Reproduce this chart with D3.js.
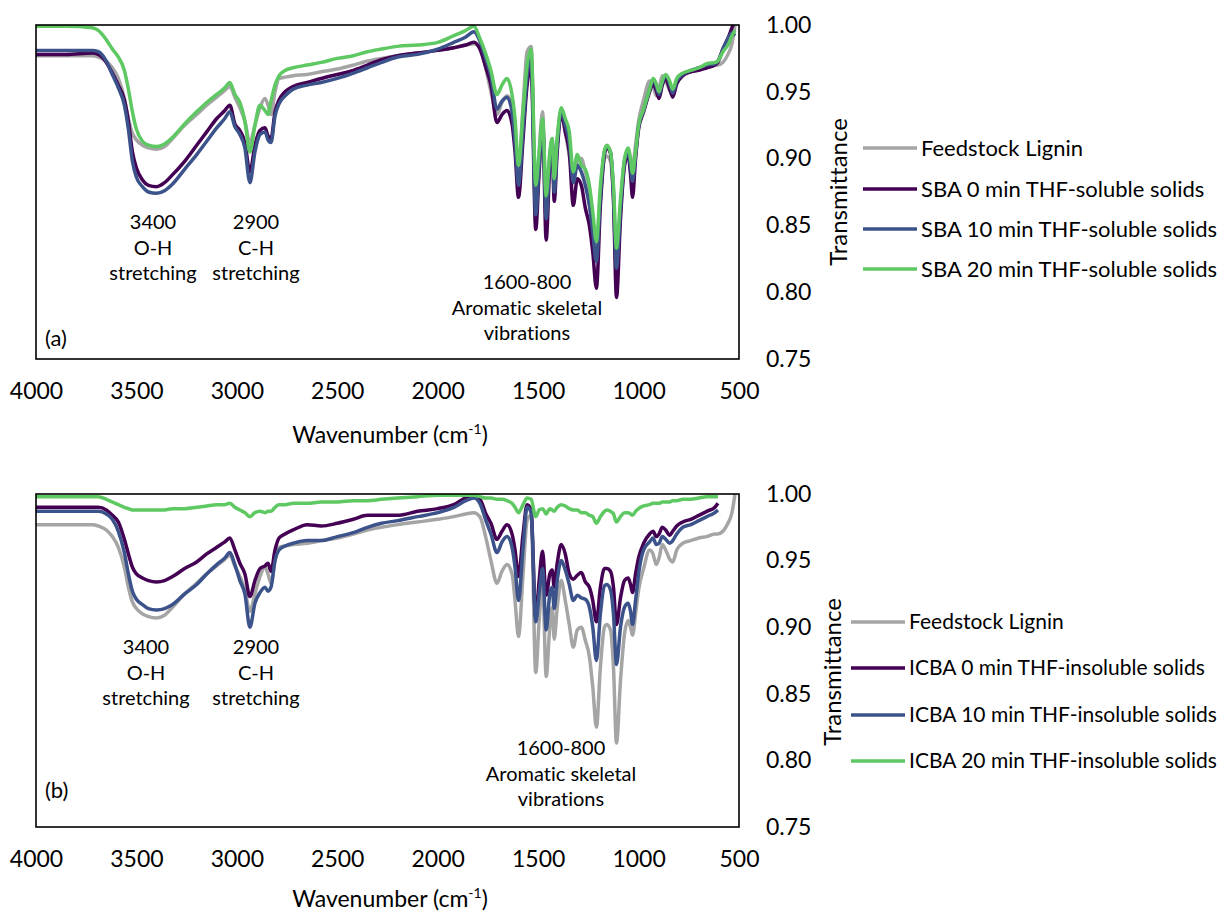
<!DOCTYPE html>
<html>
<head>
<meta charset="utf-8">
<script src="https://cdn.jsdelivr.net/npm/d3@7"></script>
<style>
  body { margin: 0; background: #fff; }
  svg { font-family: Lato, "Open Sans", sans-serif; font-variant-ligatures: none; }
</style>
</head>
<body>
<svg id="chart" width="1228" height="913"></svg>
<script>
// wavenumber grid (cm-1), shared by every series
var wavenumber = [4000, 3850, 3720, 3690, 3650, 3620, 3590, 3560, 3540, 3520,
    3500, 3470, 3440, 3400, 3360, 3320, 3260, 3200, 3150, 3100,
    3060, 3035, 3010, 2985, 2960, 2935, 2910, 2885, 2860, 2845,
    2830, 2810, 2790, 2760, 2720, 2650, 2580, 2500, 2420, 2350,
    2280, 2200, 2100, 2000, 1920, 1860, 1820, 1790, 1760, 1735,
    1705, 1680, 1655, 1630, 1615, 1598, 1575, 1555, 1535, 1512,
    1495, 1478, 1460, 1442, 1430, 1420, 1405, 1385, 1365, 1345,
    1325, 1305, 1285, 1265, 1245, 1228, 1210, 1190, 1170, 1158,
    1140, 1125, 1110, 1090, 1070, 1052, 1040, 1030, 1015, 1000,
    975, 945, 928, 912, 898, 882, 865, 845, 830, 810,
    780, 740, 700, 660, 620, 605, 580, 555, 535, 520];

// transmittance
var feedstock = [0.977, 0.977, 0.977, 0.976, 0.973, 0.968, 0.960, 0.945, 0.930, 0.919,
    0.914, 0.910, 0.908, 0.907, 0.909, 0.915, 0.925, 0.933, 0.940, 0.946,
    0.951, 0.954, 0.946, 0.938, 0.928, 0.912, 0.925, 0.938, 0.945, 0.940,
    0.933, 0.950, 0.960, 0.961, 0.962, 0.963, 0.965, 0.967, 0.970, 0.973,
    0.975, 0.977, 0.979, 0.981, 0.983, 0.985, 0.986, 0.983, 0.967, 0.950,
    0.933, 0.942, 0.947, 0.940, 0.920, 0.893, 0.940, 0.980, 0.984, 0.866,
    0.905, 0.935, 0.863, 0.900, 0.915, 0.891, 0.915, 0.935, 0.920, 0.902,
    0.885, 0.898, 0.900, 0.890, 0.878, 0.855, 0.825, 0.870, 0.900, 0.902,
    0.898, 0.870, 0.813, 0.860, 0.895, 0.905, 0.900, 0.894, 0.910, 0.928,
    0.944, 0.958, 0.955, 0.947, 0.952, 0.962, 0.958, 0.951, 0.949, 0.958,
    0.963, 0.965, 0.967, 0.968, 0.970, 0.970, 0.972, 0.978, 0.986, 1.000];

var sba0 = [0.978, 0.978, 0.979, 0.978, 0.972, 0.964, 0.955, 0.944, 0.928, 0.905,
    0.893, 0.884, 0.880, 0.879, 0.882, 0.888, 0.898, 0.910, 0.920, 0.930,
    0.936, 0.940, 0.926, 0.921, 0.912, 0.890, 0.910, 0.921, 0.923, 0.917,
    0.915, 0.935, 0.944, 0.950, 0.954, 0.957, 0.960, 0.963, 0.966, 0.970,
    0.974, 0.977, 0.979, 0.981, 0.983, 0.985, 0.987, 0.982, 0.968, 0.955,
    0.927, 0.933, 0.936, 0.926, 0.905, 0.871, 0.915, 0.955, 0.968, 0.847,
    0.890, 0.926, 0.839, 0.895, 0.910, 0.868, 0.905, 0.934, 0.920, 0.905,
    0.865, 0.885, 0.880, 0.863, 0.850, 0.830, 0.803, 0.865, 0.903, 0.908,
    0.904, 0.870, 0.796, 0.855, 0.895, 0.903, 0.888, 0.871, 0.900, 0.922,
    0.935, 0.950, 0.956, 0.951, 0.945, 0.955, 0.960, 0.952, 0.946, 0.956,
    0.962, 0.965, 0.966, 0.968, 0.970, 0.972, 0.982, 0.990, 0.998, 1.004];

var sba10 = [0.981, 0.981, 0.981, 0.980, 0.973, 0.963, 0.953, 0.940, 0.922, 0.898,
    0.886, 0.879, 0.875, 0.874, 0.876, 0.881, 0.892, 0.903, 0.913, 0.923,
    0.930, 0.935, 0.924, 0.918, 0.908, 0.882, 0.905, 0.918, 0.920, 0.914,
    0.912, 0.932, 0.941, 0.947, 0.952, 0.955, 0.957, 0.960, 0.964, 0.968,
    0.972, 0.976, 0.978, 0.982, 0.987, 0.991, 0.995, 0.988, 0.974, 0.962,
    0.937, 0.943, 0.946, 0.935, 0.912, 0.880, 0.922, 0.962, 0.975, 0.858,
    0.895, 0.928, 0.855, 0.900, 0.912, 0.875, 0.910, 0.936, 0.925, 0.912,
    0.882, 0.895, 0.890, 0.880, 0.865, 0.845, 0.823, 0.872, 0.905, 0.909,
    0.905, 0.875, 0.818, 0.862, 0.898, 0.905, 0.894, 0.883, 0.903, 0.924,
    0.936, 0.952, 0.959, 0.954, 0.948, 0.957, 0.962, 0.956, 0.949, 0.958,
    0.963, 0.966, 0.968, 0.970, 0.971, 0.973, 0.982, 0.990, 0.994, 0.992];

var sba20 = [0.999, 0.999, 0.998, 0.996, 0.989, 0.982, 0.976, 0.966, 0.952, 0.935,
    0.922, 0.913, 0.910, 0.909, 0.911, 0.916, 0.926, 0.935, 0.942, 0.948,
    0.953, 0.957, 0.948, 0.942, 0.928, 0.905, 0.925, 0.940, 0.936, 0.933,
    0.943, 0.955, 0.962, 0.966, 0.968, 0.970, 0.972, 0.975, 0.977, 0.980,
    0.982, 0.984, 0.985, 0.987, 0.992, 0.996, 0.999, 0.990, 0.978, 0.966,
    0.948, 0.955, 0.960, 0.948, 0.930, 0.895, 0.935, 0.970, 0.982, 0.880,
    0.905, 0.930, 0.872, 0.905, 0.915, 0.885, 0.915, 0.938, 0.930, 0.920,
    0.890, 0.903, 0.895, 0.892, 0.880, 0.860, 0.838, 0.880, 0.906, 0.910,
    0.905, 0.880, 0.833, 0.870, 0.900, 0.908, 0.900, 0.889, 0.905, 0.925,
    0.937, 0.952, 0.960, 0.956, 0.950, 0.958, 0.963, 0.958, 0.952, 0.960,
    0.964, 0.966, 0.968, 0.971, 0.972, 0.973, 0.980, 0.985, 0.992, 0.996];

var icba0 = [0.990, 0.990, 0.990, 0.990, 0.988, 0.984, 0.979, 0.966, 0.955, 0.945,
    0.940, 0.937, 0.935, 0.934, 0.935, 0.938, 0.944, 0.949, 0.955, 0.960,
    0.964, 0.967, 0.958, 0.948, 0.940, 0.923, 0.935, 0.944, 0.946, 0.948,
    0.942, 0.958, 0.967, 0.970, 0.973, 0.977, 0.976, 0.978, 0.981, 0.984,
    0.984, 0.984, 0.987, 0.989, 0.992, 0.997, 0.998, 0.996, 0.985, 0.978,
    0.966, 0.972, 0.977, 0.970, 0.958, 0.938, 0.970, 0.992, 0.988, 0.907,
    0.935, 0.957, 0.924, 0.940, 0.943, 0.930, 0.948, 0.962, 0.955, 0.940,
    0.936, 0.939, 0.941, 0.934, 0.930, 0.920, 0.904, 0.930, 0.944, 0.944,
    0.942, 0.930, 0.902, 0.922, 0.935, 0.937, 0.932, 0.926, 0.940, 0.952,
    0.963, 0.970, 0.972, 0.968, 0.970, 0.975, 0.973, 0.969, 0.972, 0.976,
    0.979, 0.981, 0.984, 0.987, 0.990, 0.993, null, null, null, null];

var icba10 = [0.987, 0.987, 0.987, 0.987, 0.985, 0.981, 0.972, 0.956, 0.940, 0.927,
    0.921, 0.917, 0.914, 0.913, 0.914, 0.917, 0.925, 0.932, 0.940, 0.947,
    0.952, 0.956, 0.947, 0.935, 0.925, 0.900, 0.918, 0.926, 0.930, 0.927,
    0.930, 0.950, 0.958, 0.961, 0.963, 0.965, 0.965, 0.968, 0.971, 0.975,
    0.978, 0.980, 0.983, 0.986, 0.990, 0.995, 0.997, 0.993, 0.980, 0.970,
    0.956, 0.964, 0.968, 0.960, 0.945, 0.920, 0.960, 0.990, 0.986, 0.904,
    0.925, 0.944, 0.898, 0.925, 0.930, 0.914, 0.935, 0.950, 0.943, 0.932,
    0.920, 0.924, 0.922, 0.921, 0.915, 0.900, 0.875, 0.910, 0.931, 0.932,
    0.928, 0.910, 0.872, 0.900, 0.915, 0.918, 0.912, 0.902, 0.920, 0.940,
    0.958, 0.964, 0.967, 0.962, 0.963, 0.968, 0.966, 0.963, 0.965, 0.970,
    0.975, 0.977, 0.980, 0.983, 0.986, 0.988, null, null, null, null];

var icba20 = [0.998, 0.998, 0.998, 0.998, 0.996, 0.994, 0.992, 0.990, 0.989, 0.988,
    0.988, 0.988, 0.988, 0.988, 0.988, 0.989, 0.989, 0.990, 0.991, 0.992,
    0.992, 0.993, 0.990, 0.988, 0.986, 0.983, 0.986, 0.987, 0.986, 0.987,
    0.987, 0.990, 0.992, 0.992, 0.993, 0.993, 0.994, 0.994, 0.995, 0.995,
    0.996, 0.997, 0.998, 0.999, 0.999, 0.999, 0.999, 0.998, 0.997, 0.997,
    0.996, 0.996, 0.995, 0.993, 0.990, 0.986, 0.992, 0.997, 0.996, 0.983,
    0.988, 0.989, 0.985, 0.989, 0.988, 0.987, 0.990, 0.992, 0.991, 0.989,
    0.988, 0.988, 0.986, 0.986, 0.984, 0.983, 0.978, 0.983, 0.987, 0.988,
    0.987, 0.985, 0.979, 0.983, 0.986, 0.986, 0.985, 0.984, 0.987, 0.989,
    0.991, 0.992, 0.993, 0.993, 0.993, 0.994, 0.994, 0.994, 0.995, 0.995,
    0.996, 0.996, 0.997, 0.998, 0.998, 0.998, null, null, null, null];

var xTicks = [4000, 3500, 3000, 2500, 2000, 1500, 1000, 500];
var yTicks = [0.75, 0.80, 0.85, 0.90, 0.95, 1.00];

var seriesColors = ["#a5a5a5", "#440154", "#3b528b", "#5ec962"];
var namesA = ["Feedstock Lignin", "SBA 0 min THF-soluble solids",
    "SBA 10 min THF-soluble solids", "SBA 20 min THF-soluble solids"];
var namesB = ["Feedstock Lignin", "ICBA 0 min THF-insoluble solids",
    "ICBA 10 min THF-insoluble solids", "ICBA 20 min THF-insoluble solids"];

var panels = [
    {
        id: "a", top: 25, bottom: 359, tag: "(a)", tagY: 338, titleDy: 84,
        names: namesA, series: [feedstock, sba0, sba10, sba20], legendFont: 22,
        legendX: 863, legendY: [148, 189, 229, 269], titleX: 839, titleY: 192,
        notes: [
            { x: 153, y: 222, lines: ["3400", "O-H", "stretching"] },
            { x: 256, y: 222, lines: ["2900", "C-H", "stretching"] },
            { x: 527, y: 282, lines: ["1600-800", "Aromatic skeletal", "vibrations"] }
        ]
    },
    {
        id: "b", top: 494, bottom: 827, tag: "(b)", tagY: 790, titleDy: 80,
        names: namesB, series: [feedstock, icba0, icba10, icba20], legendFont: 21,
        legendX: 851, legendY: [622, 668, 715, 761], titleX: 833, titleY: 672,
        notes: [
            { x: 146, y: 647, lines: ["3400", "O-H", "stretching"] },
            { x: 256, y: 647, lines: ["2900", "C-H", "stretching"] },
            { x: 561, y: 748, lines: ["1600-800", "Aromatic skeletal", "vibrations"] }
        ]
    }
];

var svg = d3.select("#chart");
var plotLeft = 36, plotRight = 739;

var x = d3.scaleLinear().domain([4000, 500]).range([plotLeft, plotRight]);

panels.forEach(function (p) {
    var y = d3.scaleLinear().domain([0.75, 1.0]).range([p.bottom, p.top]);
    var g = svg.append("g").attr("class", "panel-" + p.id);

    g.append("clipPath").attr("id", "clip-" + p.id)
        .append("rect")
        .attr("x", plotLeft).attr("y", p.top)
        .attr("width", plotRight - plotLeft).attr("height", p.bottom - p.top);

    var line = d3.line()
        .defined(function (d) { return d[1] != null; })
        .x(function (d) { return x(d[0]); })
        .y(function (d) { return y(d[1]); })
        .curve(d3.curveMonotoneX);

    var lines = g.append("g").attr("clip-path", "url(#clip-" + p.id + ")");
    p.series.forEach(function (vals, i) {
        var pts = wavenumber.map(function (w, k) { return [w, vals[k]]; });
        lines.append("path")
            .datum(pts)
            .attr("fill", "none")
            .attr("stroke", seriesColors[i])
            .attr("stroke-width", 3.5)
            .attr("stroke-linejoin", "round")
            .attr("d", line);
    });

    // plot area border
    g.append("rect")
        .attr("x", plotLeft).attr("y", p.top)
        .attr("width", plotRight - plotLeft).attr("height", p.bottom - p.top)
        .attr("fill", "none").attr("stroke", "#000").attr("stroke-width", 1.6);

    // x axis
    var xa = g.append("g")
        .attr("transform", "translate(0," + p.bottom + ")")
        .call(d3.axisBottom(x).tickValues(xTicks).tickSize(0).tickPadding(24)
            .tickFormat(d3.format("d")));
    xa.select(".domain").remove();
    xa.selectAll("text").attr("font-size", 23).attr("fill", "#000")
        .style("font-family", "Lato, sans-serif");

    // y axis on the right
    var ya = g.append("g")
        .attr("transform", "translate(" + plotRight + ",0)")
        .call(d3.axisRight(y).tickValues(yTicks).tickSize(0).tickPadding(27)
            .tickFormat(d3.format(".2f")));
    ya.select(".domain").remove();
    ya.selectAll("text").attr("font-size", 23).attr("fill", "#000")
        .style("font-family", "Lato, sans-serif");

    // axis titles
    var xt = g.append("text")
        .attr("x", 390).attr("y", p.bottom + p.titleDy)
        .attr("text-anchor", "middle").attr("font-size", 23);
    xt.append("tspan").text("Wavenumber (cm");
    xt.append("tspan").attr("font-size", 14).attr("dy", -9).text("-1");
    xt.append("tspan").attr("dy", 9).text(")");

    g.append("text")
        .attr("transform", "translate(" + p.titleX + "," + p.titleY + ") rotate(-90)")
        .attr("text-anchor", "middle").attr("dy", "0.35em")
        .attr("font-size", 24).text("Transmittance");

    // legend
    p.names.forEach(function (name, i) {
        var ly = p.legendY[i];
        g.append("line")
            .attr("x1", p.legendX).attr("x2", p.legendX + 54)
            .attr("y1", ly).attr("y2", ly)
            .attr("stroke", seriesColors[i]).attr("stroke-width", 3.5);
        g.append("text")
            .attr("x", p.legendX + 58).attr("y", ly).attr("dy", "0.35em")
            .attr("font-size", p.legendFont).text(name);
    });

    // annotations
    p.notes.forEach(function (n) {
        n.lines.forEach(function (s, j) {
            g.append("text")
                .attr("x", n.x).attr("y", n.y + j * 25.5).attr("dy", "0.35em")
                .attr("text-anchor", "middle").attr("font-size", 20).text(s);
        });
    });

    g.append("text")
        .attr("x", 45).attr("y", p.tagY).attr("dy", "0.35em")
        .attr("font-size", 22).text(p.tag);
});
</script>
</body>
</html>
